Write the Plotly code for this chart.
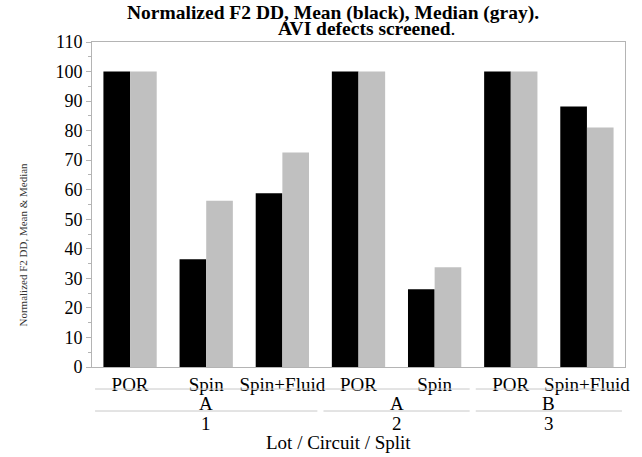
import plotly.graph_objects as go

splits = ["POR", "Spin", "Spin+Fluid", "POR", "Spin", "POR", "Spin+Fluid"]
circuits = ["A", "A", "A", "A", "A", "B", "B"]
lots = ["1", "1", "1", "2", "2", "3", "3"]
mean_vals = [100, 36.5, 58.8, 100, 26.3, 100, 88.2]
median_vals = [100, 56.3, 72.6, 100, 33.8, 100, 81.1]

W, H = 642, 457
L, R, T, B = 92, 13, 42, 90
PH = H - T - B
SERIF = "Liberation Serif, Times New Roman, serif"

def py(pix):
    return (H - B - pix) / PH

def px(pix):
    return (pix - L) / (W - L - R)

xs = list(range(len(splits)))

fig = go.Figure()
fig.add_trace(go.Bar(x=xs, y=mean_vals, marker=dict(color="#000000", line=dict(width=0)), name="Mean"))
fig.add_trace(go.Bar(x=xs, y=median_vals, marker=dict(color="#c0c0c0", line=dict(width=0)), name="Median"))

def groups(keys):
    out = []
    start = 0
    for i in range(1, len(keys) + 1):
        if i == len(keys) or keys[i] != keys[start]:
            out.append((start, i - 1, keys[start]))
            start = i
    return out

cgroups = groups(list(zip(lots, circuits)))
lgroups = groups(lots)

shapes = []
annotations = []
line_col = "#c8c8c8"

def ann(x, y, text, size=18, xref="paper", angle=0, color="#000"):
    annotations.append(dict(x=x, y=y, xref=xref, yref="paper", text=text, textangle=angle,
                            xanchor="center", yanchor="middle", showarrow=False,
                            font=dict(family=SERIF, size=size, color=color)))

for (a, b, k) in cgroups:
    shapes.append(dict(type="line", xref="x", yref="paper", x0=a - 0.46, x1=b + 0.46,
                       y0=py(389), y1=py(389), line=dict(color=line_col, width=1)))
    ann((a + b) / 2, py(403), k[1], size=19, xref="x")
for (a, b, k) in lgroups:
    shapes.append(dict(type="line", xref="x", yref="paper", x0=a - 0.46, x1=b + 0.46,
                       y0=py(411), y1=py(411), line=dict(color=line_col, width=1)))
    ann((a + b) / 2, py(423), k, size=19, xref="x")

ann(px(340), py(442), "Lot / Circuit / Split", size=19)
ann(px(335), py(13.5), "<b>Normalized F2 DD, Mean (black), Median (gray).</b>", size=19.5)
ann(px(369), py(29), "<b>AVI defects screened</b>.", size=19.5)
ann(px(22), py(245), "Normalized F2 DD, Mean & Median", size=11, angle=-90, color="#333")

fig.update_layout(
    width=W, height=H,
    margin=dict(l=L, r=R, t=T, b=B, pad=0),
    paper_bgcolor="white", plot_bgcolor="white",
    barmode="group", bargap=0.3, bargroupgap=0,
    showlegend=False,
    shapes=shapes, annotations=annotations,
    font=dict(family=SERIF, size=18, color="#000"),
)
fig.update_xaxes(
    tickmode="array", tickvals=xs, ticktext=splits,
    range=[-0.5, len(splits) - 0.5],
    showline=True, linecolor="#b4b4b4", linewidth=1, mirror=True,
    ticks="", showgrid=False, zeroline=False,
    tickfont=dict(family=SERIF, size=19, color="#000"),
)
fig.update_yaxes(
    range=[0, 110], dtick=10, tick0=0,
    showline=True, linecolor="#b4b4b4", linewidth=1, mirror=True,
    ticks="outside", ticklen=5, tickcolor="#b4b4b4",
    minor=dict(ticks="outside", dtick=5, ticklen=3, tickcolor="#b4b4b4"),
    showgrid=False, zeroline=False,
    tickfont=dict(family=SERIF, size=18, color="#000"),
)

fig.write_html("out.html")
